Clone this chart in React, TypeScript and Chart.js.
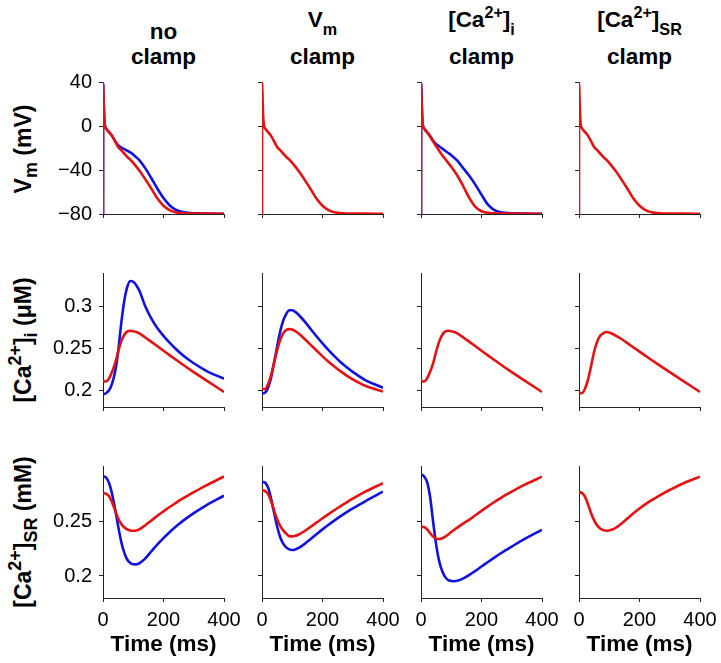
import React, { useEffect, useRef } from 'react';
import { Chart, registerables } from 'chart.js';
Chart.register(...registerables);

// ---------- data ----------
const TIME_V = [0, 0.5, 2, 4, 6, 10, 15, 20, 30, 40, 50, 60, 70, 80, 90, 100, 120, 140, 160, 180, 200, 220, 240, 260, 280, 300, 340, 400];
const VM_RED = [-80, 39, 24, 8, 1, -2, -4, -5.5, -9, -14, -19, -22, -25, -28, -30.5, -33.5, -40.5, -48.5, -57, -66, -72.5, -76.5, -78.5, -79.2, -79.5, -79.6, -79.7, -79.8];
const VM_BLUE_NO = [-80, 39, 24, 8, 1, -2, -4, -5.5, -9, -13.5, -17.5, -19.5, -21, -22.5, -24, -26, -31, -38.5, -47.5, -57, -65.5, -72, -76, -78, -79, -79.4, -79.6, -79.8];
const VM_RED_CAI = [-80, 39, 24, 8, 1, -2, -4, -5.5, -9.5, -14, -18.5, -22.5, -26.5, -30, -33.5, -37, -45, -55, -65.5, -73.5, -77.5, -79, -79.4, -79.6, -79.7, -79.7, -79.8, -79.8];
const VM_BLUE_CAI = [-80, 39, 24, 8, 1, -2, -4, -5.5, -9, -13.5, -16.5, -18.5, -20.5, -22.5, -24.5, -26.5, -31.5, -38.5, -45.5, -53.5, -62.5, -71, -76, -78.2, -79, -79.4, -79.6, -79.8];

const TIME_CA = [0, 5, 10, 20, 30, 40, 50, 60, 70, 80, 90, 100, 110, 120, 140, 160, 180, 200, 220, 240, 260, 280, 300, 340, 400];
const CAI_BLUE_NO = [0.196, 0.1955, 0.1965, 0.2, 0.208, 0.222, 0.246, 0.279, 0.306, 0.323, 0.3305, 0.3295, 0.3255, 0.319, 0.3, 0.2855, 0.274, 0.265, 0.2568, 0.2496, 0.243, 0.2373, 0.2322, 0.2235, 0.2137];
const CAI_RED = [0.212, 0.2105, 0.2105, 0.214, 0.222, 0.232, 0.246, 0.258, 0.266, 0.27, 0.271, 0.2705, 0.2695, 0.2678, 0.263, 0.2578, 0.2525, 0.2472, 0.2419, 0.2367, 0.2316, 0.2266, 0.2217, 0.2121, 0.198];
const CAI_BLUE_VM = [0.197, 0.1965, 0.197, 0.203, 0.215, 0.233, 0.252, 0.27, 0.283, 0.291, 0.2955, 0.2955, 0.2935, 0.2905, 0.2825, 0.2735, 0.2645, 0.256, 0.248, 0.2405, 0.2335, 0.2275, 0.222, 0.2125, 0.203];
const CAI_RED_VM = [0.202, 0.2015, 0.2015, 0.207, 0.218, 0.233, 0.248, 0.26, 0.268, 0.272, 0.273, 0.2725, 0.2705, 0.268, 0.2615, 0.2545, 0.2475, 0.2405, 0.234, 0.228, 0.2225, 0.2175, 0.213, 0.2055, 0.1985];
const CAI_RED_SR = [0.198, 0.1965, 0.1965, 0.202, 0.213, 0.229, 0.246, 0.258, 0.265, 0.268, 0.2695, 0.269, 0.2675, 0.2655, 0.2612, 0.2563, 0.2512, 0.2461, 0.2411, 0.2361, 0.2312, 0.2264, 0.2217, 0.2121, 0.198];

const CASR_BLUE_NO = [0.29, 0.2905, 0.2895, 0.2845, 0.2745, 0.261, 0.2455, 0.2315, 0.2215, 0.215, 0.2118, 0.2107, 0.2106, 0.2115, 0.216, 0.2225, 0.2288, 0.2345, 0.2398, 0.2447, 0.2492, 0.2533, 0.2571, 0.264, 0.273];
const CASR_RED = [0.275, 0.2752, 0.2748, 0.2725, 0.267, 0.2595, 0.2525, 0.2475, 0.2443, 0.2423, 0.2413, 0.2411, 0.2414, 0.2424, 0.2462, 0.2505, 0.2548, 0.2588, 0.2627, 0.2663, 0.2698, 0.2731, 0.2762, 0.2822, 0.2905];
const CASR_BLUE_VM = [0.2848, 0.2855, 0.285, 0.2805, 0.2705, 0.2575, 0.245, 0.2355, 0.2295, 0.226, 0.2242, 0.2237, 0.2242, 0.2253, 0.229, 0.2335, 0.238, 0.2424, 0.2466, 0.2506, 0.2544, 0.258, 0.2614, 0.2677, 0.2767];
const CASR_RED_VM = [0.2776, 0.2778, 0.2772, 0.2745, 0.268, 0.2595, 0.2515, 0.2455, 0.2415, 0.2385, 0.2362, 0.236, 0.2365, 0.2375, 0.2407, 0.2445, 0.2485, 0.2525, 0.2563, 0.26, 0.2636, 0.267, 0.2703, 0.2764, 0.2845];
const CASR_BLUE_CAI = [0.2915, 0.2918, 0.2905, 0.2855, 0.272, 0.2495, 0.2285, 0.2135, 0.2045, 0.199, 0.1963, 0.1955, 0.1952, 0.1956, 0.1978, 0.201, 0.2047, 0.2086, 0.2125, 0.2163, 0.22, 0.2235, 0.2268, 0.2333, 0.242];
const CASR_RED_CAI = [0.2438, 0.2447, 0.2445, 0.2425, 0.239, 0.2358, 0.234, 0.2336, 0.2343, 0.2358, 0.2378, 0.24, 0.242, 0.244, 0.2478, 0.2512, 0.2552, 0.2592, 0.2631, 0.2668, 0.2703, 0.2737, 0.2768, 0.2826, 0.2903];
const CASR_RED_SR = [0.2752, 0.276, 0.2755, 0.272, 0.265, 0.257, 0.2505, 0.246, 0.2432, 0.2417, 0.2412, 0.2414, 0.2422, 0.2435, 0.2475, 0.2522, 0.257, 0.2613, 0.2653, 0.2689, 0.2722, 0.2753, 0.2782, 0.2836, 0.2903];

const X_TICKS = [0, 200, 400];
const X_LABELS = ['0', '200', '400'];
const Y_RANGES = [[-80, 40], [0.18, 0.34], [0.18, 0.30]];
const Y_TICKS = [[-80, -40, 0, 40], [0.2, 0.25, 0.3], [0.2, 0.25]];
const Y_LABELS = [['\u221280', '\u221240', '0', '40'], ['0.2', '0.25', '0.3'], ['0.2', '0.25']];

// ---------- layout ----------
const FONT = "'Liberation Sans', Arial, Helvetica, sans-serif";
const TITLE_SIZE = 22.5;
const RED = 'rgb(230,18,18)';
const BLUE = 'rgb(18,18,222)';
const COL_LEFT = [103, 262, 421, 579];
const PLOT_W = 121;
const ROW_TOP = [82, 273, 466];
const ROW_H = [132, 134, 132];
const YW = 60;
const PT = 30;
const PR = 40;

type Series = { color: string; t: number[]; v: number[] };

const PANELS: { row: number; col: number; series: Series[] }[] = [
  { row: 0, col: 0, series: [{ color: RED, t: TIME_V, v: VM_RED }, { color: BLUE, t: TIME_V, v: VM_BLUE_NO }] },
  { row: 0, col: 1, series: [{ color: RED, t: TIME_V, v: VM_RED }] },
  { row: 0, col: 2, series: [{ color: RED, t: TIME_V, v: VM_RED_CAI }, { color: BLUE, t: TIME_V, v: VM_BLUE_CAI }] },
  { row: 0, col: 3, series: [{ color: RED, t: TIME_V, v: VM_RED }] },
  { row: 1, col: 0, series: [{ color: RED, t: TIME_CA, v: CAI_RED }, { color: BLUE, t: TIME_CA, v: CAI_BLUE_NO }] },
  { row: 1, col: 1, series: [{ color: RED, t: TIME_CA, v: CAI_RED_VM }, { color: BLUE, t: TIME_CA, v: CAI_BLUE_VM }] },
  { row: 1, col: 2, series: [{ color: RED, t: TIME_CA, v: CAI_RED }] },
  { row: 1, col: 3, series: [{ color: RED, t: TIME_CA, v: CAI_RED_SR }] },
  { row: 2, col: 0, series: [{ color: RED, t: TIME_CA, v: CASR_RED }, { color: BLUE, t: TIME_CA, v: CASR_BLUE_NO }] },
  { row: 2, col: 1, series: [{ color: RED, t: TIME_CA, v: CASR_RED_VM }, { color: BLUE, t: TIME_CA, v: CASR_BLUE_VM }] },
  { row: 2, col: 2, series: [{ color: RED, t: TIME_CA, v: CASR_RED_CAI }, { color: BLUE, t: TIME_CA, v: CASR_BLUE_CAI }] },
  { row: 2, col: 3, series: [{ color: RED, t: TIME_CA, v: CASR_RED_SR }] },
];

function Panel({ row, col, series }: { row: number; col: number; series: Series[] }) {
  const ref = useRef<HTMLCanvasElement>(null);
  const XH = row === 2 ? 60 : 30;
  const w = YW + PLOT_W + PR;
  const h = PT + ROW_H[row] + XH;
  useEffect(() => {
    if (!ref.current) return;
    const tickFont = { family: FONT, size: 20 };
    const chart = new Chart(ref.current, {
      type: 'line',
      data: {
        datasets: series.map((s) => ({
          data: s.t.map((x, i) => ({ x, y: s.v[i] })),
          borderColor: s.color,
          borderWidth: 2.6,
          pointRadius: 0,
          fill: false,
          cubicInterpolationMode: 'monotone' as const,
        })),
      },
      options: {
        animation: false,
        responsive: false,
        devicePixelRatio: 1,
        layout: { padding: { top: PT, right: PR, left: 0, bottom: 0 } },
        plugins: { legend: { display: false }, tooltip: { enabled: false } },
        scales: {
          x: {
            type: 'linear',
            min: 0,
            max: 400,
            afterBuildTicks: (s: any) => { s.ticks = X_TICKS.map((v) => ({ value: v })); },
            afterFit: (s: any) => { s.height = XH; },
            ticks: {
              autoSkip: false,
              maxRotation: 0,
              padding: 6,
              font: tickFont,
              color: '#000',
              callback: (_v: any, i: number) => (row === 2 ? X_LABELS[i] : ''),
            },
            grid: { drawOnChartArea: false, drawTicks: true, tickLength: 4, color: '#222' },
            border: { display: true, color: '#222', width: 1 },
            title: {
              display: row === 2,
              text: 'Time (ms)',
              color: '#000',
              font: { family: FONT, size: TITLE_SIZE, weight: 'bold' },
              padding: { top: 0, bottom: 0 },
            },
          },
          y: {
            type: 'linear',
            min: Y_RANGES[row][0],
            max: Y_RANGES[row][1],
            afterBuildTicks: (s: any) => { s.ticks = Y_TICKS[row].map((v) => ({ value: v })); },
            afterFit: (s: any) => { s.width = YW; },
            ticks: {
              autoSkip: false,
              padding: 7,
              font: tickFont,
              color: '#000',
              callback: (_v: any, i: number) => (col === 0 ? Y_LABELS[row][i] : ''),
            },
            grid: { drawOnChartArea: false, drawTicks: true, tickLength: 4, color: '#222' },
            border: { display: true, color: '#222', width: 1 },
          },
        },
      } as any,
    });
    return () => chart.destroy();
  }, []);
  return (
    <canvas
      ref={ref}
      width={w}
      height={h}
      style={{ position: 'absolute', left: COL_LEFT[col] - YW, top: ROW_TOP[row] - PT, width: w, height: h }}
    />
  );
}

const SUB = (t: string, shift = 0.5, scale = 0.72) => (
  <span style={{ fontSize: `${scale}em`, position: 'relative', top: `${shift}em` }}>{t}</span>
);
const SUP = (t: string, scale = 0.72) => (
  <span style={{ fontSize: `${scale}em`, position: 'relative', top: '-0.55em' }}>{t}</span>
);

function HText({ cx, baseline, size, children }: { cx: number; baseline: number; size: number; children: any }) {
  return (
    <div
      style={{
        position: 'absolute',
        left: cx,
        top: baseline - size * 0.8465,
        transform: 'translateX(-50%)',
        fontFamily: FONT,
        fontWeight: 'bold',
        fontSize: size,
        lineHeight: `${size}px`,
        whiteSpace: 'nowrap',
        color: '#000',
      }}
    >
      {children}
    </div>
  );
}

function YTitle({ cx, cy, children }: { cx: number; cy: number; children: any }) {
  return (
    <div
      style={{
        position: 'absolute',
        left: cx,
        top: cy,
        transform: 'translate(-50%, -50%) rotate(-90deg)',
        fontFamily: FONT,
        fontWeight: 'bold',
        fontSize: 23,
        lineHeight: '23px',
        whiteSpace: 'nowrap',
        color: '#000',
      }}
    >
      {children}
    </div>
  );
}

export default function App() {
  const cx = COL_LEFT.map((l) => l + PLOT_W / 2);
  return (
    <div style={{ position: 'absolute', left: 0, top: 0, width: 721, height: 663, background: '#fff', overflow: 'hidden' }}>
      <HText cx={cx[0]} baseline={40} size={TITLE_SIZE}>no</HText>
      <HText cx={cx[1]} baseline={28} size={TITLE_SIZE}>V{SUB('m', 0.5)}</HText>
      <HText cx={cx[2]} baseline={28} size={TITLE_SIZE}>[Ca{SUP('2+')}]{SUB('i', 0.5)}</HText>
      <HText cx={cx[3]} baseline={28} size={TITLE_SIZE}>[Ca{SUP('2+')}]{SUB('SR', 0.5)}</HText>
      {cx.map((c, i) => (
        <HText key={i} cx={c} baseline={65} size={TITLE_SIZE}>clamp</HText>
      ))}
      <YTitle cx={24} cy={149}>V{SUB('m', 0.35, 0.78)} (mV)</YTitle>
      <YTitle cx={24} cy={340}>[Ca{SUP('2+', 0.78)}]{SUB('i', 0.35, 0.78)} (μM)</YTitle>
      <YTitle cx={24} cy={532}>[Ca{SUP('2+', 0.78)}]{SUB('SR', 0.35, 0.78)} (mM)</YTitle>
      {PANELS.map((p, i) => (
        <Panel key={i} row={p.row} col={p.col} series={p.series} />
      ))}
    </div>
  );
}
